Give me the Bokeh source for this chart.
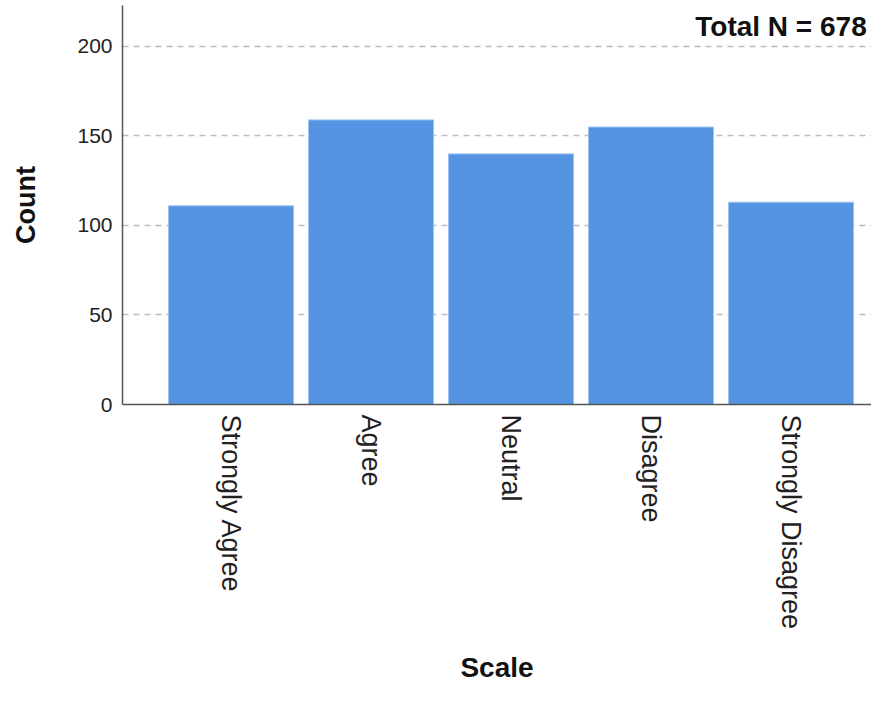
from bokeh.plotting import figure
from bokeh.models import ColumnDataSource, FixedTicker, Range1d, Label
from bokeh.embed import file_html
from bokeh.resources import INLINE

categories = ["Strongly Agree", "Agree", "Neutral", "Disagree", "Strongly Disagree"]
counts = [111, 159, 140, 155, 113]
y_ticks = [0, 50, 100, 150, 200]

positions = list(range(1, len(categories) + 1))
total_n = sum(counts)

x_start, x_end = 0.225, 5.575
y_start, y_end = 0, 222.9

src = ColumnDataSource(dict(x=positions, top=counts, cat=categories))

p = figure(width=871, height=688, output_backend="svg", toolbar_location=None,
           x_range=Range1d(x_start, x_end), y_range=Range1d(y_start, y_end),
           min_border_left=122, min_border_right=0, min_border_top=5,
           min_border_bottom=284)
p.outline_line_color = None
p.background_fill_color = "white"
p.border_fill_color = "white"

p.vbar(x="x", top="top", bottom=0, width=0.893, source=src,
       fill_color="#5594e3", line_color="#9cc3f0", line_width=1)

# axes
p.xaxis.ticker = FixedTicker(ticks=positions)
p.xaxis.major_label_overrides = {i: c for i, c in zip(positions, categories)}
p.xaxis.major_label_orientation = -1.5707963
p.xaxis.major_tick_line_color = None
p.xaxis.minor_tick_line_color = None
p.xaxis.major_label_standoff = 4
p.xaxis.major_label_text_font = "Liberation Sans"
p.xaxis.major_label_text_font_size = "27px"
p.xaxis.major_label_text_color = "#222222"
p.xaxis.axis_label = "Scale"
p.xaxis.axis_label_text_font = "Liberation Sans"
p.xaxis.axis_label_text_font_style = "bold"
p.xaxis.axis_label_text_font_size = "28px"
p.xaxis.axis_label_text_color = "#111111"
p.xaxis.axis_label_standoff = 20
p.xaxis.axis_line_color = "#555555"
p.xaxis.axis_line_width = 1.5

p.yaxis.ticker = FixedTicker(ticks=y_ticks)
p.yaxis.major_tick_line_color = None
p.yaxis.minor_tick_line_color = None
p.yaxis.major_label_standoff = 4
p.yaxis.major_label_text_font = "Liberation Sans"
p.yaxis.major_label_text_font_size = "21px"
p.yaxis.major_label_text_color = "#222222"
p.yaxis.axis_label = "Count"
p.yaxis.axis_label_text_font = "Liberation Sans"
p.yaxis.axis_label_text_font_style = "bold"
p.yaxis.axis_label_text_font_size = "27px"
p.yaxis.axis_label_text_color = "#111111"
p.yaxis.axis_label_standoff = 33
p.yaxis.axis_line_color = "#555555"
p.yaxis.axis_line_width = 1.5

p.xgrid.grid_line_color = None
p.ygrid.grid_line_color = "#bdbdbd"
p.ygrid.grid_line_dash = "6 5"
p.ygrid.grid_line_width = 1.5
p.ygrid.ticker = FixedTicker(ticks=y_ticks[1:])

lbl = Label(x=x_end, y=y_ticks[-1], text=f"Total N =  {total_n}",
            text_align="right", text_baseline="bottom", y_offset=4, x_offset=3,
            text_font="Liberation Sans", text_font_style="bold",
            text_font_size="28px", text_color="#111111")
p.add_layout(lbl)

open("out.html", "w").write(file_html(p, INLINE))
